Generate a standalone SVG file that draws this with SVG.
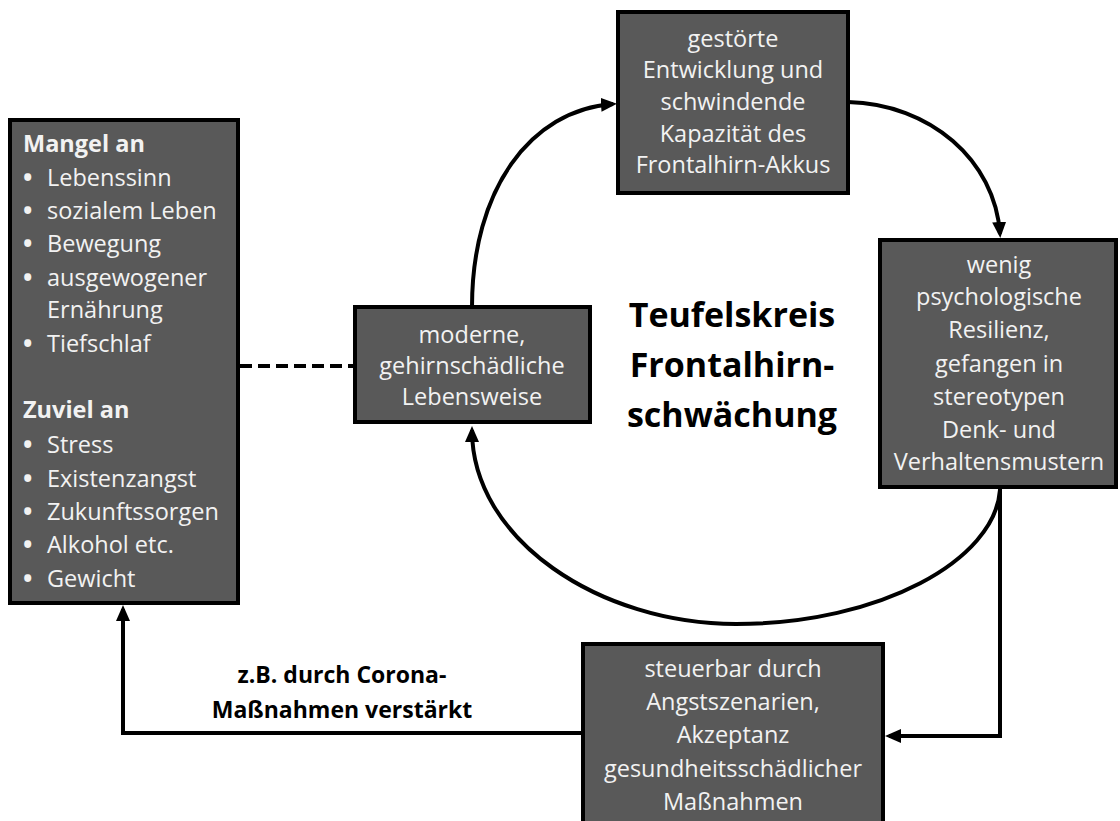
<svg xmlns="http://www.w3.org/2000/svg" width="1120" height="821" viewBox="0 0 1120 821">
<defs>
<style>
.box{fill:#595959;stroke:#000;stroke-width:4}
.bt{font-family:"Open Sans","Noto Sans","Liberation Sans",sans-serif;font-size:23.5px;fill:#f2f2f2;text-anchor:middle}
.lt{font-family:"Open Sans","Noto Sans","Liberation Sans",sans-serif;font-size:23.5px;fill:#f2f2f2}
.bu{font-family:"Open Sans","Noto Sans","Liberation Sans",sans-serif;font-size:25px;font-weight:bold;fill:#f2f2f2}
.hd{font-weight:bold}
.title{font-family:"Open Sans","Noto Sans","Liberation Sans",sans-serif;font-size:34px;font-weight:bold;fill:#000;text-anchor:middle}
.lbl{font-family:"Open Sans","Noto Sans","Liberation Sans",sans-serif;font-size:23px;font-weight:bold;fill:#000;text-anchor:middle}
.con{fill:none;stroke:#000;stroke-width:4}
</style>
<marker id="arr" markerUnits="userSpaceOnUse" markerWidth="18" markerHeight="16" refX="12" refY="7" orient="auto">
<path d="M0,0 L16,7 L0,14 z" fill="#000"/>
</marker>
</defs>
<rect width="1120" height="821" fill="#fff"/>
<g id="connectors">
<path class="con" d="M472,307 C472,190 530,110 613,104" marker-end="url(#arr)"/>
<path class="con" d="M848,102 C930,104 995,160 1000,234" marker-end="url(#arr)"/>
<path class="con" d="M1000,490 C995,560 880,624 736,624 C600,624 472,540 472,430" marker-end="url(#arr)"/>
<path class="con" d="M1000,489 L1000,736 L889,736" marker-end="url(#arr)"/>
<path class="con" d="M581,733 L123,733 L123,609" marker-end="url(#arr)"/>
<path class="con" d="M240,366 L353,366" stroke-dasharray="12 6"/>
</g>
<g id="label-corona">
<text class="lbl" x="342" y="683">z.B. durch Corona-</text>
<text class="lbl" x="342" y="718">Maßnahmen verstärkt</text>
</g>
<g id="title">
<text class="title" x="732" y="327">Teufelskreis</text>
<text class="title" x="732" y="377">Frontalhirn-</text>
<text class="title" x="732" y="427">schwächung</text>
</g>
<g id="node-left">
<rect class="box" x="10" y="120" width="228" height="483"/>
<text class="lt hd" x="23" y="152">Mangel an</text>
<text class="bu" x="23" y="186">•</text><text class="lt" x="47" y="186">Lebenssinn</text>
<text class="bu" x="23" y="219">•</text><text class="lt" x="47" y="219">sozialem Leben</text>
<text class="bu" x="23" y="252">•</text><text class="lt" x="47" y="252">Bewegung</text>
<text class="bu" x="23" y="286">•</text><text class="lt" x="47" y="286">ausgewogener</text>
<text class="lt" x="47" y="318">Ernährung</text>
<text class="bu" x="23" y="352">•</text><text class="lt" x="47" y="352">Tiefschlaf</text>
<text class="lt hd" x="23" y="418">Zuviel an</text>
<text class="bu" x="23" y="453">•</text><text class="lt" x="47" y="453">Stress</text>
<text class="bu" x="23" y="487">•</text><text class="lt" x="47" y="487">Existenzangst</text>
<text class="bu" x="23" y="520">•</text><text class="lt" x="47" y="520">Zukunftssorgen</text>
<text class="bu" x="23" y="553">•</text><text class="lt" x="47" y="553">Alkohol etc.</text>
<text class="bu" x="23" y="587">•</text><text class="lt" x="47" y="587">Gewicht</text>
</g>
<g id="node-moderne">
<rect class="box" x="355" y="307" width="235" height="115"/>
<text class="bt" x="472" y="343">moderne,</text>
<text class="bt" x="472" y="374">gehirnschädliche</text>
<text class="bt" x="472" y="405">Lebensweise</text>
</g>
<g id="node-top">
<rect class="box" x="618" y="12" width="230" height="181"/>
<text class="bt" x="733" y="47">gestörte</text>
<text class="bt" x="733" y="78">Entwicklung und</text>
<text class="bt" x="733" y="110">schwindende</text>
<text class="bt" x="733" y="142">Kapazität des</text>
<text class="bt" x="733" y="173">Frontalhirn-Akkus</text>
</g>
<g id="node-right">
<rect class="box" x="880" y="240" width="236" height="247"/>
<text class="bt" x="999" y="273">wenig</text>
<text class="bt" x="999" y="305">psychologische</text>
<text class="bt" x="999" y="338">Resilienz,</text>
<text class="bt" x="999" y="372">gefangen in</text>
<text class="bt" x="999" y="405">stereotypen</text>
<text class="bt" x="999" y="438">Denk- und</text>
<text class="bt" x="999" y="470">Verhaltensmustern</text>
</g>
<g id="node-bottom">
<rect class="box" x="583" y="644" width="300" height="190"/>
<text class="bt" x="733" y="677">steuerbar durch</text>
<text class="bt" x="733" y="710">Angstszenarien,</text>
<text class="bt" x="733" y="743">Akzeptanz</text>
<text class="bt" x="733" y="777">gesundheitsschädlicher</text>
<text class="bt" x="733" y="810">Maßnahmen</text>
</g>
</svg>
